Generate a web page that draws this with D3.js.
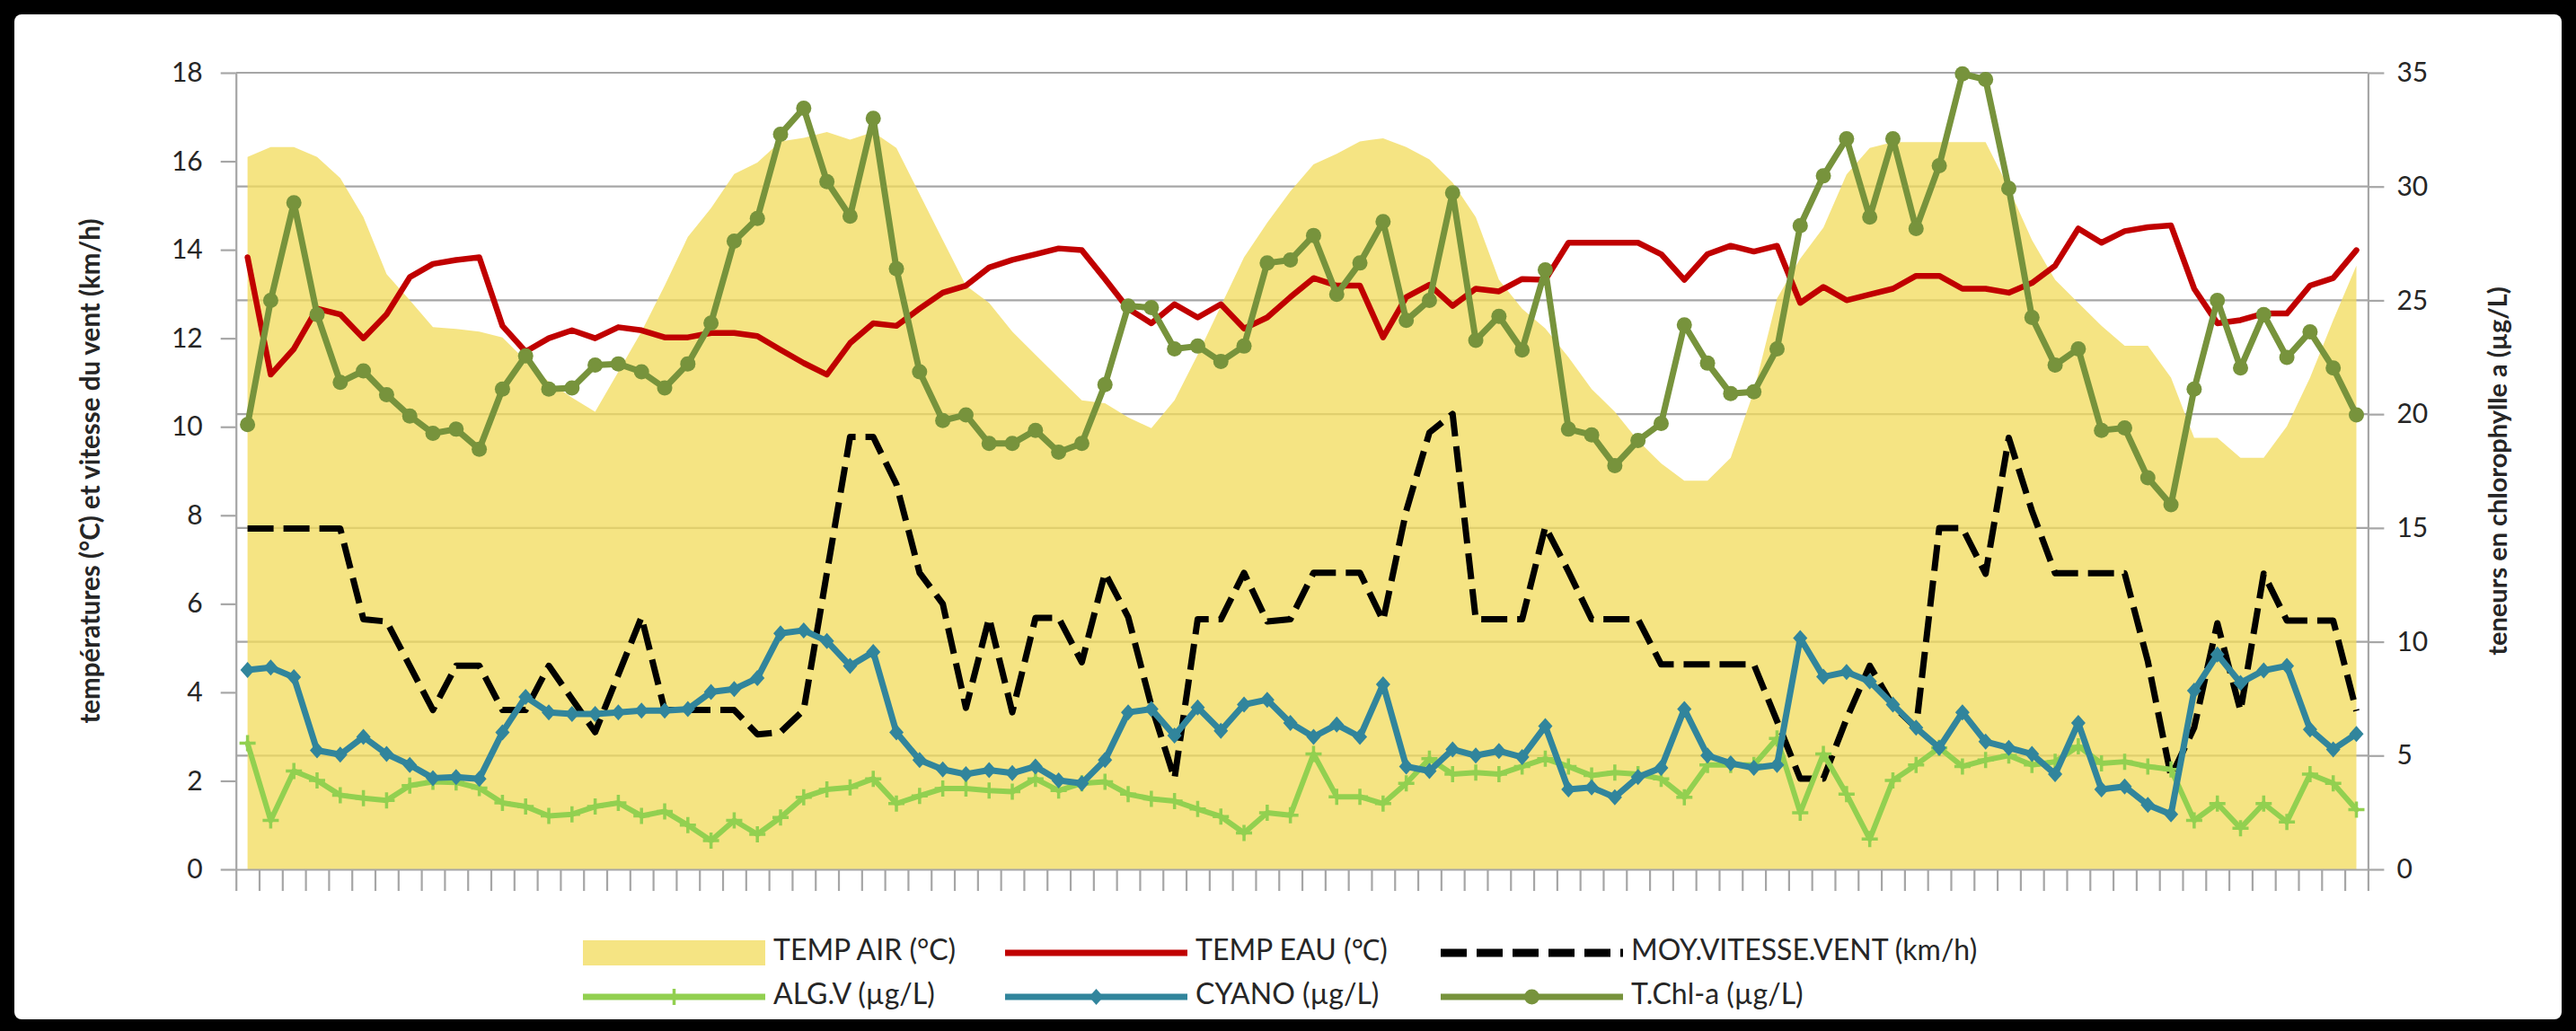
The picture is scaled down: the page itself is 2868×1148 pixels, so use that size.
<!DOCTYPE html>
<html>
<head>
<meta charset="utf-8">
<script src="https://cdn.jsdelivr.net/npm/d3@7"></script>
<style>
  html, body { margin: 0; padding: 0; background: #000; }
  svg { display: block; }
  text { font-family: Lato, "Noto Sans", sans-serif; }
</style>
</head>
<body>
<svg id="chart" width="2868" height="1148"></svg>
<script>
// ---- data: one value per sampling date (92 dates) ----
const tempAir = [16.1, 16.32, 16.32, 16.1, 15.62, 14.74, 13.45, 12.86, 12.25, 12.21,
  12.15, 12.02, 11.5, 11.02, 10.66, 10.34, 11.24, 12.15, 13.19, 14.29,
  14.94, 15.71, 15.97, 16.45, 16.53, 16.66, 16.49, 16.66, 16.3, 15.26,
  14.22, 13.19, 12.8, 12.15, 11.63, 11.11, 10.6, 10.53, 10.21, 9.97,
  10.6, 11.63, 12.73, 13.83, 14.61, 15.32, 15.93, 16.17, 16.45, 16.52,
  16.32, 16.04, 15.52, 14.74, 13.32, 12.67, 12.22, 11.57, 10.85, 10.34,
  9.69, 9.17, 8.78, 8.78, 9.3, 10.8, 12.9, 13.8, 14.5, 15.7,
  16.3, 16.43, 16.43, 16.43, 16.43, 16.43, 15.39, 14.22, 13.32, 12.8,
  12.28, 11.83, 11.83, 11.11, 9.75, 9.75, 9.3, 9.3, 10.01, 11.11,
  12.41, 13.64];

const tempEau = [13.83, 11.18, 11.76, 12.67, 12.54, 12.0, 12.54, 13.38, 13.68, 13.77,
  13.83, 12.28, 11.7, 12.0, 12.18, 12.0, 12.25, 12.18, 12.02, 12.02,
  12.12, 12.12, 12.05, 11.74, 11.44, 11.18, 11.89, 12.34, 12.28, 12.67,
  13.03, 13.19, 13.6, 13.77, 13.9, 14.03, 13.99, 13.34, 12.67, 12.34,
  12.77, 12.47, 12.77, 12.22, 12.47, 12.93, 13.36, 13.19, 13.19, 12.02,
  12.93, 13.21, 12.73, 13.12, 13.06, 13.34, 13.32, 14.16, 14.16, 14.16,
  14.16, 13.9, 13.32, 13.9, 14.09, 13.96, 14.09, 12.8, 13.16, 12.86,
  12.99, 13.12, 13.41, 13.41, 13.12, 13.12, 13.03, 13.25, 13.64, 14.48,
  14.16, 14.42, 14.51, 14.55, 13.12, 12.34, 12.41, 12.56, 12.56, 13.19,
  13.36, 13.99];

const ventMoyen = [7.7, 7.7, 7.7, 7.7, 7.7, 5.65, 5.6, 4.6, 3.6, 4.6,
  4.6, 3.6, 3.6, 4.6, 3.85, 3.1, 4.4, 5.7, 3.6, 3.6,
  3.6, 3.6, 3.05, 3.1, 3.6, 6.7, 9.77, 9.77, 8.7, 6.7,
  6.0, 3.65, 5.68, 3.55, 5.68, 5.68, 4.68, 6.7, 5.7, 3.7,
  2.05, 5.65, 5.65, 6.7, 5.6, 5.65, 6.7, 6.7, 6.7, 5.62,
  8.1, 9.87, 10.29, 5.65, 5.65, 5.65, 7.74, 6.73, 5.65, 5.65,
  5.65, 4.63, 4.63, 4.63, 4.63, 4.63, 3.35, 2.05, 2.05, 3.4,
  4.6, 3.7, 3.2, 7.71, 7.71, 6.68, 9.75, 8.1, 6.69, 6.69,
  6.69, 6.69, 4.7, 2.1, 3.2, 5.56, 3.58, 6.68, 5.62, 5.62,
  5.62, 3.58];

const algV = [5.54, 2.15, 4.32, 3.91, 3.26, 3.13, 3.03, 3.68, 3.85, 3.82,
  3.57, 2.92, 2.76, 2.35, 2.42, 2.76, 2.92, 2.35, 2.55, 1.94,
  1.26, 2.15, 1.54, 2.28, 3.17, 3.51, 3.6, 3.98, 2.89, 3.23,
  3.55, 3.55, 3.46, 3.41, 3.98, 3.46, 3.78, 3.85, 3.3, 3.1,
  3.0, 2.65, 2.32, 1.6, 2.49, 2.38, 5.07, 3.19, 3.19, 2.89,
  3.78, 4.86, 4.18, 4.25, 4.18, 4.52, 4.86, 4.52, 4.12, 4.25,
  4.18, 3.98, 3.17, 4.59, 4.59, 4.59, 5.75, 2.49, 5.07, 3.3,
  1.33, 3.91, 4.59, 5.34, 4.52, 4.8, 5.0, 4.59, 4.73, 5.41,
  4.66, 4.73, 4.52, 4.39, 2.15, 2.89, 1.81, 2.89, 2.08, 4.18,
  3.78, 2.62];

const cyano = [8.76, 8.87, 8.44, 5.23, 5.04, 5.82, 5.07, 4.59, 4.01, 4.05,
  3.98, 6.02, 7.58, 6.9, 6.83, 6.83, 6.9, 6.97, 6.97, 7.04,
  7.79, 7.92, 8.4, 10.37, 10.5, 10.03, 8.94, 9.55, 6.02, 4.8,
  4.39, 4.18, 4.36, 4.23, 4.52, 3.91, 3.78, 4.8, 6.9, 7.04,
  5.88, 7.11, 6.09, 7.24, 7.45, 6.43, 5.82, 6.36, 5.82, 8.13,
  4.52, 4.32, 5.27, 5.0, 5.2, 4.93, 6.29, 3.51, 3.6, 3.17,
  4.05, 4.46, 7.04, 5.0, 4.66, 4.46, 4.59, 10.16, 8.46, 8.67,
  8.26, 7.24, 6.22, 5.34, 6.9, 5.61, 5.34, 5.07, 4.18, 6.43,
  3.51, 3.64, 2.83, 2.42, 7.85, 9.44, 8.19, 8.74, 8.94, 6.15,
  5.27, 5.95];

const chlA = [19.54, 25.0, 29.29, 24.38, 21.4, 21.9, 20.85, 19.92, 19.16, 19.34,
  18.46, 21.1, 22.56, 21.1, 21.15, 22.16, 22.21, 21.86, 21.15, 22.21,
  24.0, 27.6, 28.6, 32.3, 33.44, 30.22, 28.7, 33.0, 26.39, 21.86,
  19.72, 19.97, 18.71, 18.71, 19.29, 18.33, 18.71, 21.3, 24.75, 24.68,
  22.87, 22.99, 22.31, 22.99, 26.64, 26.77, 27.85, 25.26, 26.64, 28.46,
  24.12, 25.0, 29.72, 23.24, 24.3, 22.82, 26.34, 19.34, 19.09, 17.74,
  18.84, 19.59, 23.92, 22.24, 20.9, 20.98, 22.87, 28.28, 30.47, 32.1,
  28.66, 32.1, 28.15, 30.92, 34.95, 34.7, 29.92, 24.25, 22.16, 22.87,
  19.29, 19.39, 17.2, 16.02, 21.1, 25.0, 22.03, 24.38, 22.49, 23.62,
  22.03, 19.97];

// sampling dates are not labelled on the axis: categories are their rank
const categories = tempAir.map((_, i) => i);

const leftTicks = [0, 2, 4, 6, 8, 10, 12, 14, 16, 18];
const rightTicks = [0, 5, 10, 15, 20, 25, 30, 35];

const leftTitle = "températures (°C) et vitesse du vent (km/h)";
const rightTitle = "teneurs en chlorophylle a (µg/L)";

const legendItems = [
  { key: "air",  label: "TEMP AIR (°C)" },
  { key: "eau",  label: "TEMP EAU (℃)" },
  { key: "vent", label: "MOY.VITESSE.VENT (km/h)" },
  { key: "alg",  label: "ALG.V (µg/L)" },
  { key: "cya",  label: "CYANO (µg/L)" },
  { key: "chl",  label: "T.Chl-a (µg/L)" }
];

// ---- styles ----
const C = {
  air: "#F2DC5C", eau: "#C00000", vent: "#000000",
  alg: "#92D050", cya: "#31859C", chl: "#77933C",
  axis: "#A6A6A6", text: "#262626"
};

const svg = d3.select("#chart");

// white card on the black page
svg.append("rect")
  .attr("x", 16).attr("y", 16).attr("width", 2836).attr("height", 1119)
  .attr("rx", 8).attr("fill", "#fff");

const P = { left: 262.7, right: 2636.4, top: 81, bottom: 968 };

const x = d3.scaleBand().domain(categories).range([P.left, P.right]).padding(0);
const cx = i => x(i) + x.bandwidth() / 2;
const xEdge = d3.scaleLinear().domain([0, categories.length]).range([P.left, P.right]);
const yL = d3.scaleLinear().domain([0, 18]).range([P.bottom, P.top]);
const yR = d3.scaleLinear().domain([0, 35]).range([P.bottom, P.top]);

// horizontal gridlines follow the secondary axis
svg.append("g").selectAll("line")
  .data(rightTicks.filter(v => v > 0))
  .join("line")
  .attr("x1", P.left).attr("x2", P.right)
  .attr("y1", d => yR(d)).attr("y2", d => yR(d))
  .attr("stroke", C.axis).attr("stroke-width", 2.2);

// air temperature as a filled area
svg.append("path")
  .datum(tempAir)
  .attr("d", d3.area().x((d, i) => cx(i)).y0(yL(0)).y1(d => yL(d)))
  .attr("fill", C.air).attr("fill-opacity", 0.76);

// axes
function styleAxis(g) {
  g.select(".domain").attr("stroke", C.axis).attr("stroke-width", 2.2);
  g.selectAll(".tick line").attr("stroke", C.axis).attr("stroke-width", 2.2);
  g.selectAll(".tick text").attr("fill", C.text).style("font-size", "30px")
    .style("font-family", "Lato, 'Noto Sans', sans-serif");
}

svg.append("g")
  .attr("transform", `translate(${P.left},0)`)
  .call(d3.axisLeft(yL).tickValues(leftTicks).tickSize(17).tickSizeOuter(0).tickPadding(20))
  .call(styleAxis);

svg.append("g")
  .attr("transform", `translate(${P.right},0)`)
  .call(d3.axisRight(yR).tickValues(rightTicks).tickSize(18).tickSizeOuter(0).tickPadding(14))
  .call(styleAxis);

svg.append("g")
  .attr("transform", `translate(0,${P.bottom})`)
  .call(d3.axisBottom(xEdge).tickValues(d3.range(categories.length + 1))
    .tickFormat("").tickSize(24).tickSizeOuter(0))
  .call(styleAxis);

// axis titles
svg.append("text")
  .attr("transform", `translate(103,${(P.top + P.bottom) / 2}) rotate(-90)`)
  .attr("text-anchor", "middle").attr("dominant-baseline", "middle")
  .style("font-size", "29.5px").style("font-weight", "bold").attr("fill", C.text)
  .text(leftTitle);

svg.append("text")
  .attr("transform", `translate(2784,${(P.top + P.bottom) / 2}) rotate(-90)`)
  .attr("text-anchor", "middle").attr("dominant-baseline", "middle")
  .style("font-size", "29px").style("font-weight", "bold").attr("fill", C.text)
  .text(rightTitle);

// line series
function drawLine(values, y, color, width, dash) {
  const p = svg.append("path")
    .datum(values)
    .attr("d", d3.line().x((d, i) => cx(i)).y(d => y(d)))
    .attr("fill", "none").attr("stroke", color).attr("stroke-width", width)
    .attr("stroke-linejoin", "round");
  if (dash) p.attr("stroke-dasharray", dash).attr("stroke-linecap", "butt");
  else p.attr("stroke-linecap", "round");
}

const marker = {
  alg: (g, px, py) => g.append("path")
    .attr("d", `M${px - 9},${py}H${px + 9}M${px},${py - 9}V${py + 9}`)
    .attr("stroke", C.alg).attr("stroke-width", 3.5),
  cya: (g, px, py) => g.append("path")
    .attr("d", `M${px},${py - 9}L${px + 8},${py}L${px},${py + 9}L${px - 8},${py}Z`)
    .attr("fill", C.cya),
  chl: (g, px, py) => g.append("circle")
    .attr("cx", px).attr("cy", py).attr("r", 8.5).attr("fill", C.chl)
};

function drawMarkers(values, y, kind) {
  const g = svg.append("g");
  values.forEach((d, i) => marker[kind](g, cx(i), y(d)));
}

drawLine(tempEau, yL, C.eau, 6.5);
drawLine(ventMoyen, yL, C.vent, 7, "29,11");
drawLine(algV, yR, C.alg, 6);
drawMarkers(algV, yR, "alg");
drawLine(cyano, yR, C.cya, 7);
drawMarkers(cyano, yR, "cya");
drawLine(chlA, yR, C.chl, 7);
drawMarkers(chlA, yR, "chl");

// legend: two rows of three entries
const colX = [649, 1119, 1604];
const rowY = [1061, 1110];
const swW = 203;
const leg = svg.append("g");
legendItems.forEach((it, k) => {
  const x0 = colX[k % 3], yy = rowY[Math.floor(k / 3)];
  if (it.key === "air") {
    leg.append("rect").attr("x", x0).attr("y", yy - 14).attr("width", swW).attr("height", 28)
      .attr("fill", C.air).attr("fill-opacity", 0.76);
  } else {
    const l = leg.append("line").attr("x1", x0).attr("x2", x0 + swW).attr("y1", yy).attr("y2", yy)
      .attr("stroke", C[it.key]).attr("stroke-width", it.key === "vent" ? 9 : 7);
    if (it.key === "vent") l.attr("stroke-dasharray", "29,11");
    if (marker[it.key]) marker[it.key](leg, x0 + swW / 2, yy);
  }
  leg.append("text")
    .attr("x", x0 + swW + 9).attr("y", yy)
    .attr("dominant-baseline", "middle")
    .style("font-size", "32px").attr("fill", C.text)
    .text(it.label);
});
</script>
</body>
</html>
